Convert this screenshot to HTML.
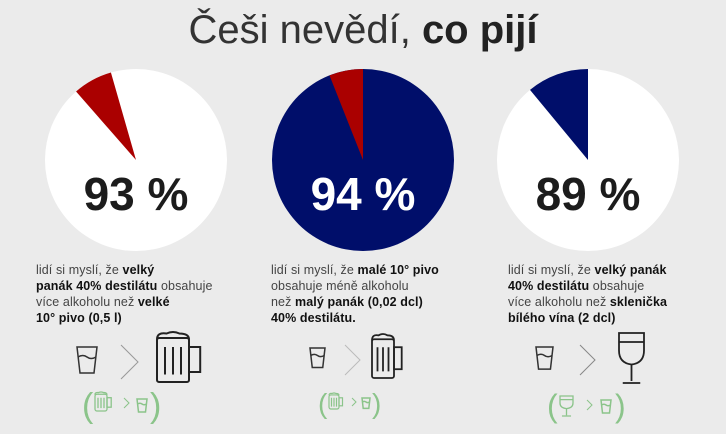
<!DOCTYPE html>
<html><head><meta charset="utf-8"><style>
body{margin:0;width:726px;height:434px;background:#ebebeb;font-family:"Liberation Sans",sans-serif;overflow:hidden;position:relative}
.t{position:absolute;font-size:12.5px;line-height:16px;color:#444;letter-spacing:0.1px}
.t b{color:#111}
</style></head><body>
<div style="position:absolute;top:8px;left:0;width:726px;text-align:center;font-size:40px;color:#222"><span style="font-weight:300;color:#333;-webkit-text-stroke:0">Češi nevědí, </span><b>co pijí</b></div>
<svg id="c" width="726" height="434" style="position:absolute;left:0;top:0"></svg>
<div class="t" style="left:36px;top:262px;width:210px">lidí si myslí, že <b>velký<br>panák 40% destilátu</b> obsahuje<br>více alkoholu než <b>velké<br>10° pivo (0,5 l)</b></div>
<div class="t" style="left:271px;top:262px;width:210px">lidí si myslí, že <b>malé 10° pivo</b><br>obsahuje méně alkoholu<br>než <b>malý panák (0,02 dcl)</b><br><b>40% destilátu.</b></div>
<div class="t" style="left:508px;top:262px;width:210px">lidí si myslí, že <b>velký panák<br>40% destilátu</b> obsahuje<br>více alkoholu než <b>sklenička<br>bílého vína (2 dcl)</b></div>
<script>
const labels=["93 %","94 %","89 %"];
const values=[93,94,89];
const offsets=[16,0,0];
const NS="http://www.w3.org/2000/svg";
const svg=document.getElementById('c');
const cx=[136,363,588],cy=160,r=91;
const bg=["#ffffff","#000e6a","#ffffff"],fg=["#aa0000","#aa0000","#000e6a"],tc=["#1c1c1c","#ffffff","#1c1c1c"];
function pt(x,a){const rad=a*Math.PI/180;return [x+r*Math.sin(rad),cy-r*Math.cos(rad)];}
values.forEach((v,i)=>{
  const c=document.createElementNS(NS,'circle');
  c.setAttribute('cx',cx[i]);c.setAttribute('cy',cy);c.setAttribute('r',r);c.setAttribute('fill',bg[i]);
  
  
  svg.appendChild(c);
  const a1=-offsets[i],a0=a1-(100-v)*3.6;
  const p0=pt(cx[i],a0),p1=pt(cx[i],a1);
  const p=document.createElementNS(NS,'path');
  p.setAttribute('d',`M${cx[i]},${cy}L${p0[0]},${p0[1]}A${r},${r} 0 0 1 ${p1[0]},${p1[1]}Z`);
  p.setAttribute('fill',fg[i]);
  
  
  svg.appendChild(p);
  const t=document.createElementNS(NS,'text');
  t.setAttribute('x',cx[i]);t.setAttribute('y',210);t.setAttribute('text-anchor','middle');
  t.setAttribute('font-size','46');t.setAttribute('font-weight','bold');t.setAttribute('fill',tc[i]);
  t.setAttribute('font-family','Liberation Sans, sans-serif');
  t.textContent=labels[i];
  
  
  svg.appendChild(t);
});
// icons
function shot(x,y,s,col){return `<g stroke="${col}" stroke-width="1.5" fill="none"><path d="M${x},${y}h${20*s}l${-3*s},${26*s}h${-14*s}z"/><path d="M${x+1*s},${y+10*s}q${5*s},${-3*s} ${9*s},0t${9*s},0"/></g>`;}
function chev(x,y,h,col){return `<path d="M${x},${y}l${h*0.5},${h/2}l${-h*0.5},${h/2}" stroke="${col}" stroke-width="1" fill="none"/>`;}
function mug(x,y,w,h,col,sw){return `<g stroke="${col}" stroke-width="${sw}" fill="none"><rect x="${x}" y="${y+h*0.12}" width="${w}" height="${h*0.88}" rx="2"/><path d="M${x},${y+h*0.15}q0,-${h*0.15} ${w*0.3},-${h*0.12}q${w*0.2},-${h*0.06} ${w*0.4},0q${w*0.3},0 ${w*0.3},${h*0.12}"/><rect x="${x+w}" y="${y+h*0.3}" width="${w*0.35}" height="${h*0.5}"/><path d="M${x+w*0.25},${y+h*0.3}v${h*0.55}M${x+w*0.5},${y+h*0.3}v${h*0.55}M${x+w*0.75},${y+h*0.3}v${h*0.55}"/></g>`;}
function wine(x,y,w,h,col,sw){return `<g stroke="${col}" stroke-width="${sw}" fill="none"><path d="M${x},${y}h${w}v${h*0.35}q0,${h*0.25} ${-w/2},${h*0.28}q${-w/2},${-h*0.03} ${-w/2},${-h*0.28}z"/><path d="M${x},${y+h*0.18}h${w}M${x+w/2},${y+h*0.63}v${h*0.33}M${x+w*0.15},${y+h}h${w*0.7}"/></g>`;}
const g="#8bc48a";
let ic='';
ic+=shot(77,347,1,'#333')+chev(121,345,34,'#999')+mug(157,332,32,50,'#222',2);
ic+=`<text x="82" y="417" font-size="34" fill="${g}" font-family="Liberation Sans" font-weight="100">(</text><text x="150" y="417" font-size="34" fill="${g}" font-family="Liberation Sans">)</text>`+mug(95,392,12,19,g,1.3)+chev(124,398,10,g)+shot(137,399,0.5,g);
ic+=shot(310,348,0.75,'#333')+chev(345,345,30,'#bbb')+mug(372,334,22,44,'#222',1.8);
ic+=`<text x="318" y="413" font-size="28" fill="${g}" font-family="Liberation Sans">(</text><text x="372" y="413" font-size="28" fill="${g}" font-family="Liberation Sans">)</text>`+mug(329,393,10,16,g,1.2)+chev(352,398,8,g)+shot(362,398,0.4,g);
ic+=shot(536,347,0.85,'#333')+chev(580,345,30,'#888')+wine(619,333,25,50,'#222',1.8);
ic+=`<text x="547" y="417" font-size="32" fill="${g}" font-family="Liberation Sans">(</text><text x="615" y="417" font-size="32" fill="${g}" font-family="Liberation Sans">)</text>`+wine(560,396,13,20,g,1.3)+chev(587,400,10,g)+shot(601,400,0.5,g);
const ig=document.createElementNS(NS,'g');


ig.innerHTML=ic;svg.appendChild(ig);
</script>
</body></html>
